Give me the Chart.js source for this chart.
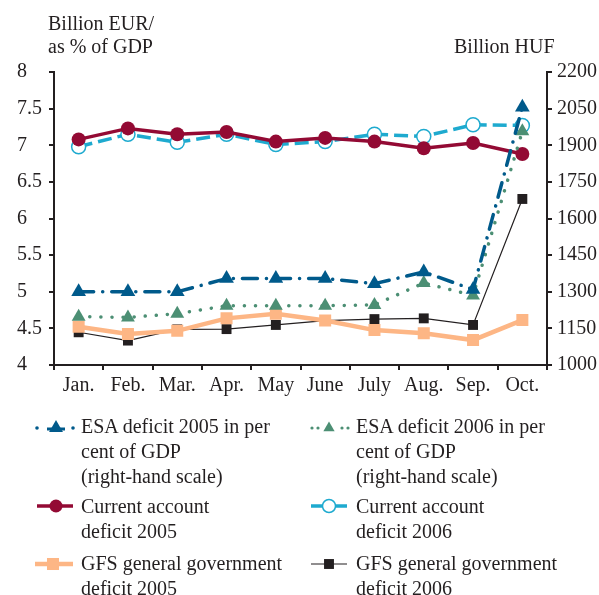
<!DOCTYPE html>
<html><head><meta charset="utf-8">
<script src="https://cdn.jsdelivr.net/npm/chart.js@4.4.0/dist/chart.umd.min.js"></script>
<style>
html,body{margin:0;padding:0;background:#fff;}
body{width:599px;height:595px;overflow:hidden;font-family:"Liberation Serif","Times New Roman",serif;color:#231f20;}
#wrap{position:relative;width:599px;height:595px;}
#c{position:absolute;left:0;top:0;}
.t{position:absolute;font-size:20px;line-height:23px;white-space:nowrap;}
.lg{position:absolute;font-size:20px;line-height:25px;white-space:nowrap;}
svg{position:absolute;left:0;top:0;}
</style></head><body>
<div id="wrap">
<canvas id="c" width="599" height="400"></canvas>
<div class="t" style="left:48px;top:12px;">Billion EUR/<br>as % of GDP</div>
<div class="t" style="left:454px;top:35px;">Billion HUF</div>
<svg id="lsvg" width="599" height="595"></svg>
<div id="legend"></div>
</div>
<script>
const months = ["Jan.","Feb.","Mar.","Apr.","May","June","July","Aug.","Sep.","Oct."];
// ESA deficit, per cent of GDP
const esa2005 = [5.00,5.00,5.00,5.18,5.18,5.18,5.11,5.27,5.03,7.52];
const esa2006 = [4.66,4.65,4.70,4.81,4.81,4.81,4.82,5.12,4.95,7.19];
// Current account deficit, billion EUR
const ca2005 = [7.08,7.23,7.15,7.18,7.05,7.10,7.05,6.96,7.03,6.88];
const ca2006 = [6.98,7.15,7.04,7.15,7.01,7.05,7.15,7.12,7.28,7.27];
// GFS general government deficit, billion HUF
const gfs2005 = [1157,1127,1140,1191,1210,1182,1143,1130,1102,1184];
const gfs2006 = [1134,1100,1146,1147,1164,1182,1188,1191,1164,1680];
const leftTicks = {min:4, max:8, step:0.5};
const rightTicks = {min:1000, max:2200, step:150};

const labels = [
  "ESA deficit 2005 in per\ncent of GDP\n(right-hand scale)",
  "ESA deficit 2006 in per\ncent of GDP\n(right-hand scale)",
  "Current account\ndeficit 2005",
  "Current account\ndeficit 2006",
  "GFS general government\ndeficit 2005",
  "GFS general government\ndeficit 2006"
];
const C = {esa05:"#005a8b", esa06:"#4c8f74", ca05:"#930a34", ca06:"#1eaacf", gfs05:"#fdb685", gfs06:"#231f20"};
const ink = "#231f20";
const FONT = "'Liberation Serif','Times New Roman',serif";

const datasets = [
  {label:labels[0], data:esa2005, yAxisID:'y', borderColor:C.esa05, backgroundColor:C.esa05, borderWidth:3.5,
   borderDash:[15,9,0.1,9], borderCapStyle:'round', pointStyle:'triangle', pointRadius:8.5, pointBorderWidth:0},
  {label:labels[1], data:esa2006, yAxisID:'y', borderColor:C.esa06, backgroundColor:C.esa06, borderWidth:3.5,
   borderDash:[0.1,11], borderCapStyle:'round', pointStyle:'triangle', pointRadius:8, pointBorderWidth:0},
  {label:labels[2], data:ca2005, yAxisID:'y', borderColor:C.ca05, backgroundColor:C.ca05, borderWidth:3.5,
   pointStyle:'circle', pointRadius:7, pointBorderWidth:0},
  {label:labels[3], data:ca2006, yAxisID:'y', borderColor:C.ca06, backgroundColor:'#ffffff', borderWidth:3.5,
   borderDash:[14,6], pointStyle:'circle', pointRadius:7, pointBorderWidth:1.5, pointBorderColor:C.ca06},
  {label:labels[4], data:gfs2005, yAxisID:'y1', borderColor:C.gfs05, backgroundColor:C.gfs05, borderWidth:4.5,
   pointStyle:'rect', pointRadius:8.5, pointBorderWidth:0},
  {label:labels[5], data:gfs2006, yAxisID:'y1', borderColor:C.gfs06, backgroundColor:C.gfs06, borderWidth:1.2,
   pointStyle:'rect', pointRadius:7, pointBorderWidth:0}
];
datasets.forEach(d=>{d.tension=0; d.fill=false; d.pointHoverRadius=d.pointRadius;});

const chart = new Chart(document.getElementById('c'), {
  type:'line',
  data:{labels:months, datasets},
  options:{
    responsive:false, animation:false, devicePixelRatio:1,
    layout:{padding:{left:17,right:0,top:72,bottom:0}},
    plugins:{legend:{display:false}, tooltip:{enabled:false}},
    scales:{
      x:{offset:true,
         grid:{offset:true, drawOnChartArea:false, drawTicks:true, tickLength:5, color:ink, lineWidth:2},
         border:{display:true, color:ink, width:2},
         ticks:{color:ink, font:{family:FONT, size:20}, padding:4, maxRotation:0, autoSkip:false},
         afterFit:(s)=>{s.height = 35;}},
      y:{position:'left', min:leftTicks.min, max:leftTicks.max,
         grid:{drawOnChartArea:false, drawTicks:true, tickLength:5, color:ink, lineWidth:2},
         border:{display:true, color:ink, width:2},
         ticks:{stepSize:leftTicks.step, color:ink, font:{family:FONT, size:20}, crossAlign:'far', padding:4,
                callback:(v)=>String(v)},
         afterFit:(s)=>{s.width = 37;}},
      y1:{position:'right', min:rightTicks.min, max:rightTicks.max,
         grid:{drawOnChartArea:false, drawTicks:true, tickLength:5, color:ink, lineWidth:2},
         border:{display:true, color:ink, width:2},
         ticks:{stepSize:rightTicks.step, color:ink, font:{family:FONT, size:20}, padding:5,
                callback:(v)=>String(v)},
         afterFit:(s)=>{s.width = 52;}}
    }
  }
});

// HTML legend built from the datasets
const pos = [
  {x:81, y:414, sx:35, ex:75, mx:56, my:428},
  {x:356, y:414, sx:311, ex:349, mx:329, my:428},
  {x:81, y:494, sx:37, ex:73, mx:56, my:506},
  {x:356, y:494, sx:311, ex:347, mx:329, my:506},
  {x:81, y:551, sx:35, ex:73, mx:53, my:564},
  {x:356, y:551, sx:311, ex:347, mx:329, my:564}
];
const svg = document.getElementById('lsvg');
const leg = document.getElementById('legend');
const NS = "http://www.w3.org/2000/svg";
function el(tag, attrs){const e=document.createElementNS(NS,tag); for(const k in attrs) e.setAttribute(k,attrs[k]); svg.appendChild(e); return e;}
datasets.forEach((d,i)=>{
  const p = pos[i];
  const div = document.createElement('div');
  div.className='lg'; div.style.left=p.x+'px'; div.style.top=p.y+'px';
  div.innerHTML = d.label.split('\n').join('<br>');
  leg.appendChild(div);
  const la = {x1:p.sx, y1:p.my, x2:p.ex, y2:p.my, stroke:d.borderColor, 'stroke-width':d.borderWidth};
  if(i===0){ // dash-dot sample: dot, marker, dot
    el('circle',{cx:p.sx+2,cy:p.my,r:1.8,fill:d.borderColor});
    el('circle',{cx:p.ex-2,cy:p.my,r:1.8,fill:d.borderColor});
    el('line',{x1:p.mx-9,y1:p.my+1,x2:p.mx+9,y2:p.my+1,stroke:d.borderColor,'stroke-width':3});
  } else if(i===1){
    [p.sx+1,p.sx+7,p.ex-7,p.ex-1].forEach(cx=>el('circle',{cx,cy:p.my,r:1.6,fill:d.borderColor}));
  } else {
    el('line',la);
  }
  const r = d.pointRadius;
  if(d.pointStyle==='triangle'){
    const rr = i===0?8:6.5;
    const pts=[[p.mx,p.my-rr],[p.mx+rr*0.866,p.my+rr*0.5],[p.mx-rr*0.866,p.my+rr*0.5]].map(q=>q.join(',')).join(' ');
    el('polygon',{points:pts,fill:d.backgroundColor});
  } else if(d.pointStyle==='circle'){
    el('circle',{cx:p.mx,cy:p.my,r:r-0.5,fill:d.backgroundColor,stroke:d.pointBorderWidth?d.pointBorderColor:'none','stroke-width':d.pointBorderWidth||0});
  } else {
    const h = r*Math.SQRT1_2;
    el('rect',{x:p.mx-h,y:p.my-h,width:2*h,height:2*h,fill:d.backgroundColor});
  }
});
</script>
</body></html>
